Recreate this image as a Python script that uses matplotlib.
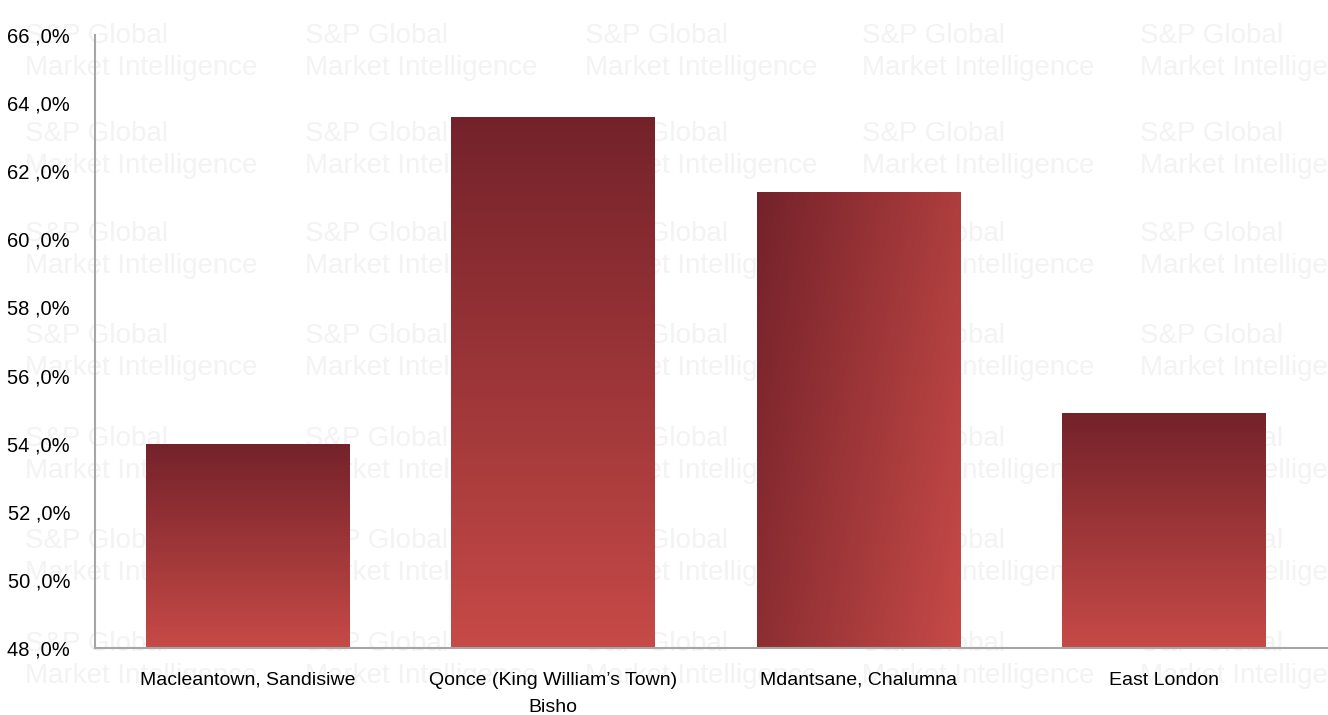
import numpy as np
import matplotlib
matplotlib.use("Agg")
import matplotlib.pyplot as plt
from matplotlib.colors import LinearSegmentedColormap
from matplotlib.ticker import FuncFormatter

categories = ["Macleantown, Sandisiwe", "Qonce (King William’s Town)\nBisho",
              "Mdantsane, Chalumna", "East London"]
values = [54.0, 63.6, 61.4, 54.9]
yticks = [48, 50, 52, 54, 56, 58, 60, 62, 64, 66]

plt.rcParams['font.family'] = ['Liberation Sans', 'DejaVu Sans']

fig = plt.figure(figsize=(13.28, 7.15), dpi=100)
ax = fig.add_axes([95/1328, 1-648/715, (1328-95)/1328, (648-35)/715])
ax.set_facecolor('none')

# watermark
for cx in [25, 305, 585, 862, 1140]:
    for cy in [52, 150, 250, 352, 455, 557, 660]:
        fig.text(cx/1328, 1-cy/715, "S&P Global\nMarket Intelligence", fontsize=20,
                 color='#f3f3f3', va='center', ha='left',
                 linespacing=1.3, zorder=-5)

cmap = LinearSegmentedColormap.from_list('r', ['#74222a', '#c64a47'])
width = 0.667
x = np.arange(len(categories))
bars = ax.bar(x, values, width=width, bottom=0, color='none', zorder=2)
ymin, ymax = 48, 66
for i, b in enumerate(bars):
    x0, x1 = b.get_x(), b.get_x() + b.get_width()
    top = values[i]
    if i == 2:
        xx, yy = np.meshgrid(np.linspace(0, 1, 100), np.linspace(0, 1, 200))
        grad = 0.7 * xx + 0.3 * yy
    else:
        grad = np.linspace(0, 1, 200)[:, None] * np.ones((1, 2))
    im = ax.imshow(grad, cmap=cmap, extent=[x0, x1, ymin, top], origin='upper',
                   aspect='auto', zorder=2, vmin=0, vmax=1)
    im.set_clip_path(b)

ax.set_xlim(-0.5, 3.5 + 11/305.5)
ax.set_ylim(ymin, ymax)
ax.set_yticks(yticks)
ax.yaxis.set_major_formatter(FuncFormatter(lambda v, p: f"{int(v)} ,0%"))
ax.set_xticks(x)
ax.set_xticklabels(categories, fontsize=14, linespacing=1.8)
ax.tick_params(axis='y', labelsize=14.5, length=0, pad=18)
ax.tick_params(axis='x', length=0, pad=17)
for s in ['top', 'right']:
    ax.spines[s].set_visible(False)
for s in ['left', 'bottom']:
    ax.spines[s].set_color('#a6a6a6')
    ax.spines[s].set_linewidth(1.5)

fig.savefig('out.png', dpi=100)
